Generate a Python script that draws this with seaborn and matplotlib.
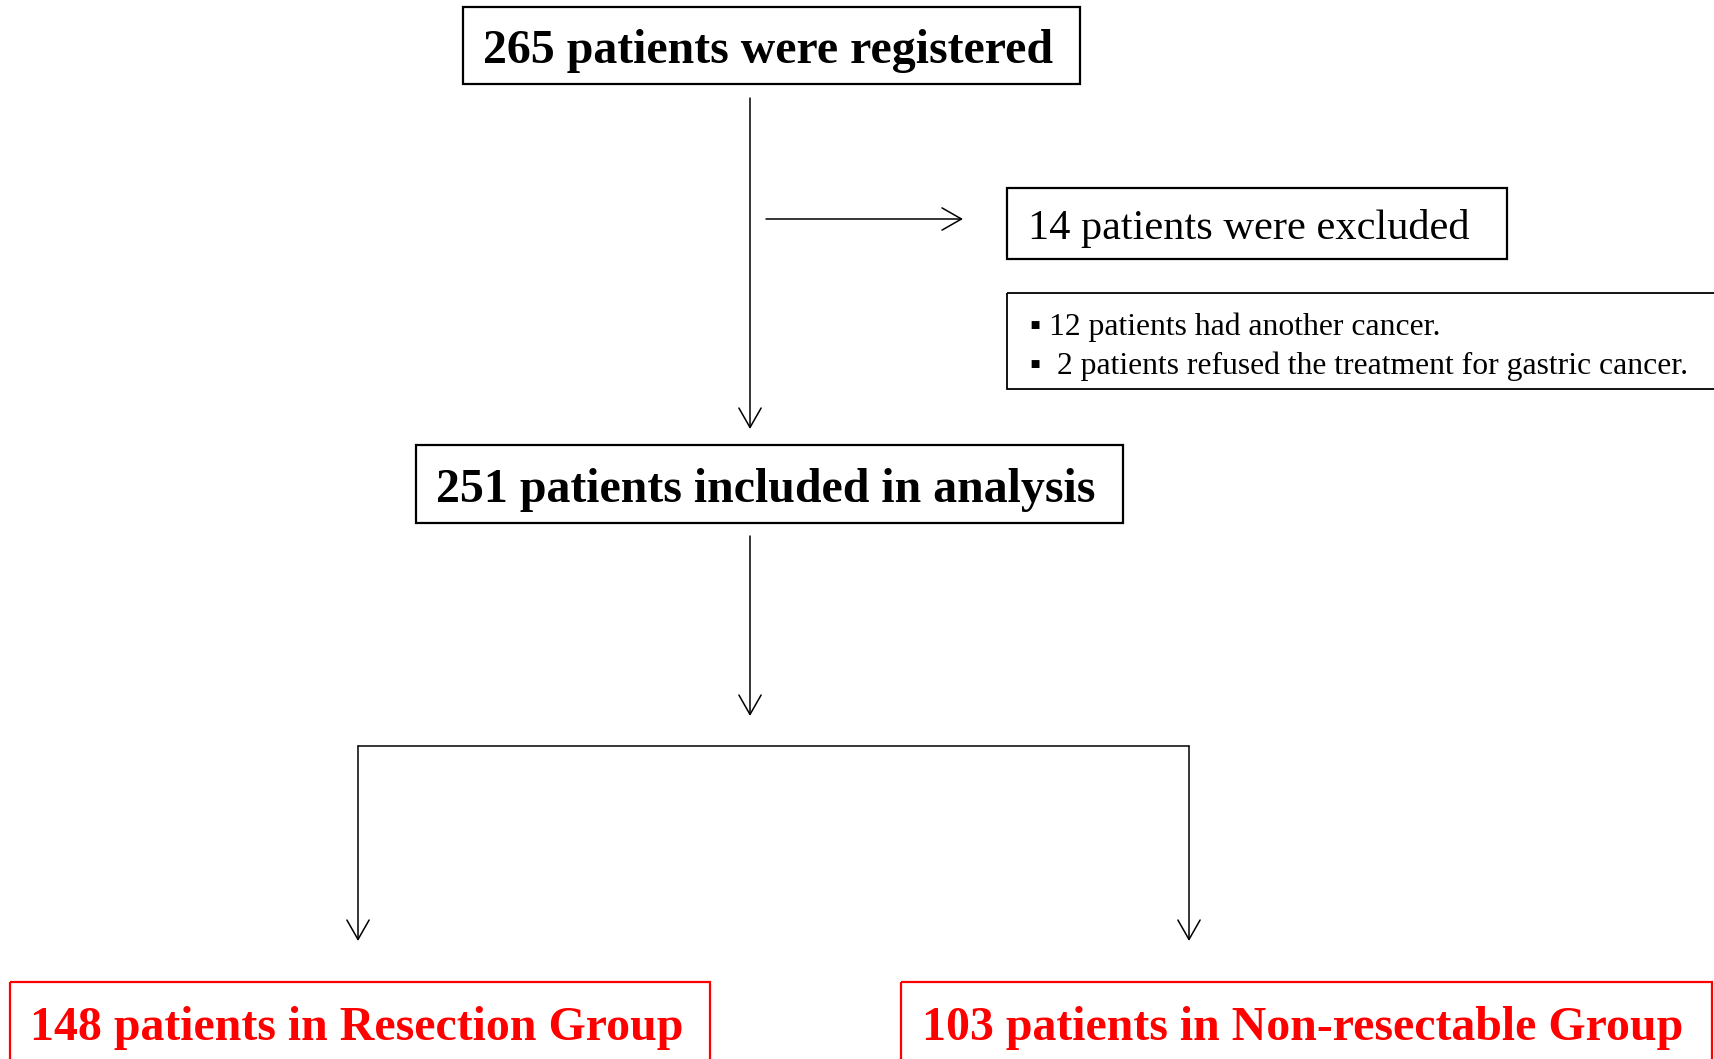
import matplotlib
matplotlib.use("Agg")
import matplotlib.pyplot as plt
from matplotlib.patches import Rectangle, FancyArrowPatch
import seaborn as sns

# study flow counts
REGISTERED = 265
EXCLUSION_COUNTS = [12, 2]
EXCLUSION_REASONS = ["had another cancer.", "refused the treatment for gastric cancer."]
GROUP_NAMES = ["Resection", "Non-resectable"]
GROUP_COUNTS = [148, 103]

excluded = sum(EXCLUSION_COUNTS)
included = REGISTERED - excluded

sns.set_theme(style="white", rc={"text.color": "black"})
plt.rcParams["font.family"] = ["Liberation Serif", "DejaVu Sans"]

W, H = 1715, 1059
fig = plt.figure(figsize=(W / 100, H / 100), dpi=100)
ax = fig.add_axes([0, 0, 1, 1])
ax.set_xlim(0, W)
ax.set_ylim(H, 0)
ax.axis("off")

RED = "#ff0000"


def box(x0, y0, x1, y1, color="black", lw=1.6):
    ax.add_patch(Rectangle((x0, y0), x1 - x0, y1 - y0, fill=False,
                           edgecolor=color, linewidth=lw, clip_on=False))


def arrow(x0, y0, x1, y1):
    ax.add_patch(FancyArrowPatch((x0, y0), (x1, y1),
                                 arrowstyle="->,head_length=0.7,head_width=0.4",
                                 mutation_scale=20, linewidth=1.1,
                                 color="black", shrinkA=0, shrinkB=0))


# top box
box(463, 7, 1080, 84)
ax.text(768, 51, f"{REGISTERED} patients were registered", fontsize=34.5,
        fontweight="bold", color="black", ha="center", va="center")

# main vertical arrow and side arrow
arrow(750, 98, 750, 429)
arrow(766, 219, 963, 219)

# excluded box
box(1007, 188, 1507, 259)
ax.text(1028, 228, f"{excluded} patients were excluded", fontsize=30.5,
        color="black", ha="left", va="center")

# reasons box (runs off the right edge)
box(1007, 293, 1740, 389, lw=1.3)
reason_y = [327, 366]
for i, (n, r) in enumerate(zip(EXCLUSION_COUNTS, EXCLUSION_REASONS)):
    pad = " " if i == 0 else "  "
    ax.text(1030, reason_y[i], f"\u25aa{pad}{n} patients {r}", fontsize=22.8,
            color="black", ha="left", va="center")

# included box
box(416, 445, 1123, 523)
ax.text(766, 490, f"{included} patients included in analysis", fontsize=34.5,
        fontweight="bold", color="black", ha="center", va="center")

# split
arrow(750, 536, 750, 716)
ax.plot([358, 1189], [746, 746], color="black", linewidth=1.1)
arrow(358, 746, 358, 941)
arrow(1189, 746, 1189, 941)

# group boxes (bottom runs off the figure)
group_boxes = [(10, 710), (901, 1712)]
group_text_x = [357, 1303]
for (x0, x1), tx, name, n in zip(group_boxes, group_text_x, GROUP_NAMES, GROUP_COUNTS):
    box(x0, 982, x1, 1080, color=RED)
    ax.text(tx, 1028, f"{n} patients in {name} Group", fontsize=34.5,
            fontweight="bold", color=RED, ha="center", va="center")

fig.savefig("out.png", dpi=100)
